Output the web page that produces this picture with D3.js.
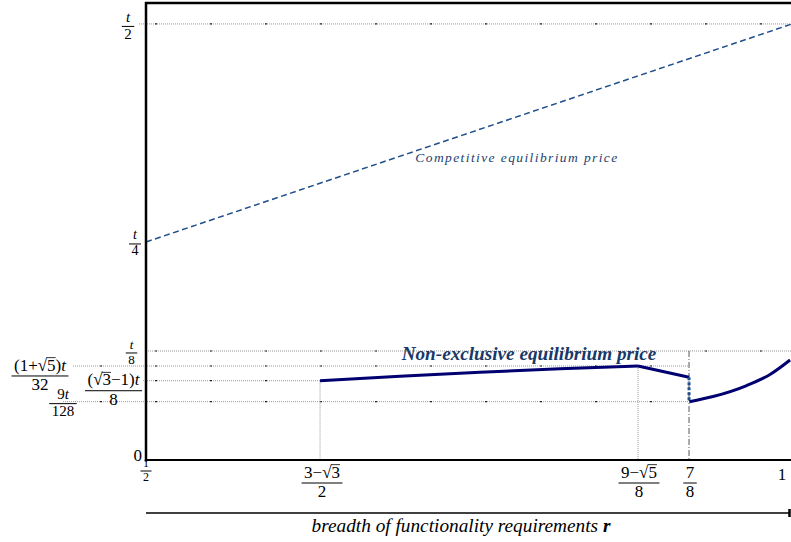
<!DOCTYPE html>
<html>
<head>
<meta charset="utf-8">
<script src="https://cdn.jsdelivr.net/npm/d3@7/dist/d3.min.js"></script>
<style>
  body { margin: 0; background: #fff; }
  svg { display: block; }
  text { font-family: "Liberation Serif", "Times New Roman", serif; fill: #000; }
</style>
</head>
<body>
<div id="chart"></div>
<script>
// values (the original axes are drawn schematically, not to scale)
// x: breadth of functionality requirements r, y: price in units of t
const xTickVals = [0.5, 0.6347, 0.8808, 0.9203, 1];
const xTickLabels = [
  {num: [["1"]], den: "2"},
  {num: [["3−"], ["√"], ["3", "s"]], den: "2"},
  {num: [["9−"], ["√"], ["5", "s"]], den: "8"},
  {num: [["7"]], den: "8"},
  {text: "1"}
];
const yTickVals = [0.5, 0.25, 0.125, 0.1078, 0.0909, 0.0669, 0];
const yTickLabels = [
  {num: [["t", "i"]], den: "2"},
  {num: [["t", "i"]], den: "4"},
  {num: [["t", "i"]], den: "8"},
  {num: [["(1+"], ["√"], ["5", "s"], [")"], ["t", "i"]], den: "32"},
  {num: [["("], ["√"], ["3", "s"], ["−1)"], ["t", "i"]], den: "8"},
  {num: [["9"], ["t", "i"]], den: "128"},
  {text: "0"}
];

// competitive equilibrium price (linear in r)
const compR = [0.5, 1];
const compP = [0.25, 0.5];

// non-exclusive equilibrium price, three pieces and the jump at r = 7/8
const neR1 = [0.6347, 0.6966, 0.7585, 0.8204, 0.8808];
const neP1 = [0.0909, 0.0961, 0.1007, 0.1046, 0.1078];
const neR2 = [0.8808, 0.9203];
const neP2 = [0.1078, 0.0948];
const neR3 = [0.9205, 0.9389, 0.9649, 0.9830, 0.9985];
const neP3 = [0.0669, 0.0728, 0.0854, 0.0981, 0.1147];
const jumpR = [0.9203, 0.9203];
const jumpP = [0.0948, 0.0669];

// layout for the y labels: centre x and bar offset below the line
const yLabelCx = [128, 135, 131.5, 40, 113.5, 63, 142];
const yLabelDy = [2.5, 2, 2, 10, 10, 2, 1];
const yLabelSize = [15, 14, 13, 17, 17, 15, 17];
// horizontal guides: left end in px, right end in r
const guideVals = [0.5, 0.125, 0.1078, 0.0909, 0.0669];
const guideLeft = [139, 146, 73, 143, 63];
const guideRight = [1, 1, 0.9203, 0.6347, 0.9203];

const W = 791, H = 542;
const svg = d3.select("#chart").append("svg")
  .attr("width", W).attr("height", H);

const x = d3.scaleLinear().domain([0.5, 1]).range([146, 792]);
const y = d3.scaleLinear().domain([0, 0.524]).range([460, 3]);

const gridColor = "#9a9a9a";

// dotted guides with the small dark marks every 55px
function guide(x1, y1, x2, y2, markStart) {
  svg.append("line")
    .attr("x1", x1).attr("y1", y1).attr("x2", x2).attr("y2", y2)
    .attr("stroke", gridColor).attr("stroke-width", 1)
    .attr("stroke-dasharray", "1,1");
  if (markStart !== undefined) {
    const s = (((markStart - x1) % 55) + 55) % 55;
    svg.append("line")
      .attr("x1", x1).attr("y1", y1).attr("x2", x2).attr("y2", y2)
      .attr("stroke", "#222").attr("stroke-width", 1.2)
      .attr("stroke-dasharray", "2,53")
      .attr("stroke-dashoffset", 55 - s);
  }
}

guideVals.forEach((v, i) => {
  guide(guideLeft[i], y(v), x(guideRight[i]), y(v), 155);
});

// vertical guides down to the axis
guide(x(neR1[0]), y(neP1[0]), x(neR1[0]), y(0));
guide(x(neR2[0]), y(neP2[0]), x(neR2[0]), y(0));
svg.append("line")
  .attr("x1", x(jumpR[0])).attr("x2", x(jumpR[0]))
  .attr("y1", y(0.125)).attr("y2", y(0))
  .attr("stroke", "#555").attr("stroke-width", 1)
  .attr("stroke-dasharray", "6,2,1,2");

// competitive price
const line = d3.line().x(d => x(d[0])).y(d => y(d[1]));
svg.append("path")
  .datum(d3.zip(compR, compP))
  .attr("d", line)
  .attr("fill", "none")
  .attr("stroke", "#1f4e8c")
  .attr("stroke-width", 1.5)
  .attr("stroke-dasharray", "6,3.5");

svg.append("text")
  .attr("x", 517).attr("y", 162)
  .attr("text-anchor", "middle")
  .attr("font-style", "italic")
  .attr("font-size", 13.5)
  .attr("letter-spacing", 1.4)
  .style("fill", "#1d3f70")
  .text("Competitive equilibrium price");

// non-exclusive price
const curve = d3.line().x(d => x(d[0])).y(d => y(d[1])).curve(d3.curveMonotoneX);
[[neR1, neP1], [neR2, neP2], [neR3, neP3]].forEach(s => {
  svg.append("path")
    .datum(d3.zip(s[0], s[1]))
    .attr("d", curve)
    .attr("fill", "none")
    .attr("stroke", "#000070")
    .attr("stroke-width", 3)
    .attr("stroke-linecap", "butt");
});
svg.append("path")
  .datum(d3.zip(jumpR, jumpP))
  .attr("d", line)
  .attr("fill", "none")
  .attr("stroke", "#1f4e8c")
  .attr("stroke-width", 3)
  .attr("stroke-dasharray", "3,2");

svg.append("text")
  .attr("x", 529).attr("y", 360)
  .attr("text-anchor", "middle")
  .attr("font-style", "italic")
  .attr("font-weight", "bold")
  .attr("font-size", 19.2)
  .style("fill", "#17386a")
  .text("Non-exclusive equilibrium price");

// frame
svg.append("line").attr("x1", 146).attr("x2", 146).attr("y1", 2).attr("y2", 461.5)
  .attr("stroke", "#000").attr("stroke-width", 2.5);
svg.append("line").attr("x1", 145).attr("x2", W).attr("y1", 3).attr("y2", 3)
  .attr("stroke", "#000").attr("stroke-width", 2.5);
svg.append("line").attr("x1", 145).attr("x2", W).attr("y1", 460).attr("y2", 460)
  .attr("stroke", "#000").attr("stroke-width", 2.2);

// fractions drawn as real text
function fraction(cx, barY, lab, size) {
  const g = svg.append("g");
  const numT = g.append("text")
    .attr("x", cx).attr("y", barY - 0.32 * size)
    .attr("text-anchor", "middle")
    .attr("font-size", size);
  lab.num.forEach(p => {
    const ts = numT.append("tspan").text(p[0]);
    if (p[1] === "i") ts.attr("font-style", "italic");
    if (p[1] === "s") ts.classed("radicand", true);
  });
  const denT = g.append("text")
    .attr("x", cx).attr("y", barY + 0.82 * size)
    .attr("text-anchor", "middle")
    .attr("font-size", size)
    .text(lab.den);
  // bar over the sqrt radicand
  numT.selectAll("tspan.radicand").each(function () {
    const p0 = this.getStartPositionOfChar(0);
    const w = this.getComputedTextLength();
    g.append("line")
      .attr("x1", p0.x - 0.5).attr("x2", p0.x + w)
      .attr("y1", p0.y - 0.76 * size).attr("y2", p0.y - 0.76 * size)
      .attr("stroke", "#000").attr("stroke-width", 0.8);
  });
  const w = Math.max(numT.node().getComputedTextLength(), denT.node().getComputedTextLength()) + 5;
  g.append("line")
    .attr("x1", cx - w / 2).attr("x2", cx + w / 2)
    .attr("y1", barY).attr("y2", barY)
    .attr("stroke", "#000").attr("stroke-width", 1);
}

// x tick labels
xTickVals.forEach((v, i) => {
  const lab = xTickLabels[i];
  if (lab.text) {
    svg.append("text").attr("x", x(v) - 10).attr("y", 480)
      .attr("text-anchor", "middle").attr("font-size", 17).text(lab.text);
  } else if (i === 0) {
    fraction(x(v), 471, lab, 12);
  } else {
    fraction(x(v) + (i === 1 ? 2 : 1), 483, lab, 17);
  }
});

// y tick labels
yTickVals.forEach((v, i) => {
  const lab = yTickLabels[i];
  if (lab.text) {
    svg.append("text").attr("x", yLabelCx[i]).attr("y", y(v) + yLabelDy[i])
      .attr("text-anchor", "end").attr("font-size", yLabelSize[i]).text(lab.text);
  } else {
    fraction(yLabelCx[i], y(v) + yLabelDy[i], lab, yLabelSize[i]);
  }
});

// axis arrow and title below
svg.append("line").attr("x1", 146).attr("x2", 790).attr("y1", 513).attr("y2", 513)
  .attr("stroke", "#000").attr("stroke-width", 1.5);
svg.append("line").attr("x1", 789.5).attr("x2", 789.5).attr("y1", 509).attr("y2", 517)
  .attr("stroke", "#000").attr("stroke-width", 2.5);

const title = svg.append("text")
  .attr("x", 461).attr("y", 532)
  .attr("text-anchor", "middle")
  .attr("font-size", 19.3)
  .attr("font-style", "italic");
title.append("tspan").text("breadth of functionality requirements ");
title.append("tspan").attr("font-weight", "bold").text("r");
</script>
</body>
</html>
